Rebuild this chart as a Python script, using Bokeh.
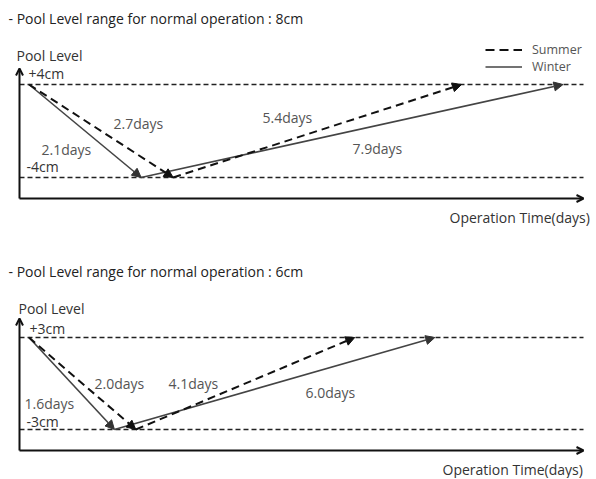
from bokeh.plotting import figure
from bokeh.models import Arrow, NormalHead, OpenHead, Label, ColumnDataSource, Legend, LegendItem
from bokeh.layouts import column
from bokeh.embed import file_html
from bokeh.resources import INLINE

# ---------------- data ----------------
range_titles = ["- Pool Level range for normal operation : 8cm",
                "- Pool Level range for normal operation : 6cm"]
half_range = [4, 3]            # cm, +/- level limits
summer_down = [2.7, 2.0]       # days to drain to lower limit (summer)
summer_up = [5.4, 4.1]         # days to rise to upper limit (summer)
winter_down = [2.1, 1.6]       # days (winter)
winter_up = [7.9, 6.0]         # days (winter)
series_names = ["Summer", "Winter"]
y_axis_label = "Pool Level"
x_axis_label = "Operation Time(days)"

# ---------------- layout ----------------
W = 596
PX_PER_DAY = 53.4
X0_PAGE = 28.5
x_start = -X0_PAGE / PX_PER_DAY
x_end = x_start + W / PX_PER_DAY

FONT = "Open Sans"
NAN = float("nan")

panels_layout = [
    dict(fig_top=0, H=244, top_line=84, bot_line=177, xaxis=198, ytip=68,
         title=(8, 18), ylab=(16, 55), plus=(28, 73), minus=(26, 166),
         sd=(113, 123), wd=(41, 149), su=(262, 117), wu=(352, 148), xlab=(449, 217)),
    dict(fig_top=244, H=234, top_line=337, bot_line=429, xaxis=450, ytip=318,
         title=(8, 271), ylab=(18, 308), plus=(29, 328), minus=(26, 421),
         sd=(94, 383), wd=(24, 403), su=(168, 383), wu=(305, 392), xlab=(442, 469)),
]

figs = []
for i, L in enumerate(panels_layout):
    h = half_range[i]
    ppc = (L["bot_line"] - L["top_line"]) / (2 * h)
    y_end = h + (L["top_line"] - L["fig_top"]) / ppc
    y_start = y_end - L["H"] / ppc

    def dx(px):
        return x_start + px / PX_PER_DAY

    def dy(py):
        return y_end - (py - L["fig_top"]) / ppc

    p = figure(width=W, height=L["H"], x_range=(x_start, x_end), y_range=(y_start, y_end),
               x_axis_type=None, y_axis_type=None, toolbar_location=None,
               output_backend="svg", min_border=0, outline_line_color=None)
    p.grid.visible = False

    ax_x = dx(19)
    ax_right = dx(583)

    # limit lines
    p.segment(x0=[ax_x, ax_x], y0=[h, -h], x1=[ax_right, ax_right], y1=[h, -h],
              line_color="#222222", line_width=1.6, line_dash="5 3")

    # axes with arrowheads
    p.add_layout(Arrow(end=OpenHead(size=7, line_width=2, line_color="#111111"),
                       x_start=ax_x, y_start=dy(L["xaxis"]), x_end=ax_x, y_end=dy(L["ytip"]),
                       line_width=2, line_color="#111111"))
    p.add_layout(Arrow(end=OpenHead(size=7, line_width=2, line_color="#111111"),
                       x_start=ax_x, y_start=dy(L["xaxis"]), x_end=ax_right, y_end=dy(L["xaxis"]),
                       line_width=2, line_color="#111111"))

    # winter arrows (solid)
    wsrc = ColumnDataSource(dict(
        xs=[0, winter_down[i]], ys=[h, -h],
        xe=[winter_down[i], winter_down[i] + winter_up[i]], ye=[-h, h]))
    p.add_layout(Arrow(end=NormalHead(size=9, fill_color="#333333", line_color="#333333"),
                       x_start="xs", y_start="ys", x_end="xe", y_end="ye", source=wsrc,
                       line_color="#444444", line_width=1.6))
    # summer arrows (dashed)
    ssrc = ColumnDataSource(dict(
        xs=[0, summer_down[i]], ys=[h, -h],
        xe=[summer_down[i], summer_down[i] + summer_up[i]], ye=[-h, h]))
    p.add_layout(Arrow(end=NormalHead(size=9, fill_color="#111111", line_color="#111111"),
                       x_start="xs", y_start="ys", x_end="xe", y_end="ye", source=ssrc,
                       line_color="#111111", line_width=2, line_dash="8 5"))

    def lab(text, pos, size="14px", color="#333333"):
        p.add_layout(Label(x=dx(pos[0]), y=dy(pos[1]), text=text, text_font=FONT,
                           text_font_size=size, text_color=color, text_baseline="middle",
                           text_align="left"))

    lab(range_titles[i], L["title"], color="#222222")
    lab(y_axis_label, L["ylab"])
    lab(f"+{h}cm", L["plus"])
    lab(f"-{h}cm", L["minus"])
    lab(f"{summer_down[i]}days", L["sd"], color="#555555")
    lab(f"{winter_down[i]}days", L["wd"], color="#555555")
    lab(f"{summer_up[i]}days", L["su"], color="#555555")
    lab(f"{winter_up[i]}days", L["wu"], color="#555555")
    lab(x_axis_label, L["xlab"])

    if i == 0:
        rs = p.line(x=[NAN], y=[NAN], line_color="#111111", line_width=2, line_dash="9 5")
        rw = p.line(x=[NAN], y=[NAN], line_color="#444444", line_width=1.6)
        leg = Legend(items=[LegendItem(label=series_names[0], renderers=[rs]),
                            LegendItem(label=series_names[1], renderers=[rw])],
                     location=(485, L["H"] - (75 - L["fig_top"])),
                     border_line_color=None, background_fill_alpha=0,
                     glyph_width=37, glyph_height=15, label_height=15,
                     label_standoff=10, spacing=0, padding=0, margin=0,
                     label_text_font=FONT, label_text_font_size="12.5px",
                     label_text_color="#555555")
        p.add_layout(leg, "center")

    figs.append(p)

layout = column(*figs, spacing=0)
open("out.html", "w").write(file_html(layout, INLINE))
